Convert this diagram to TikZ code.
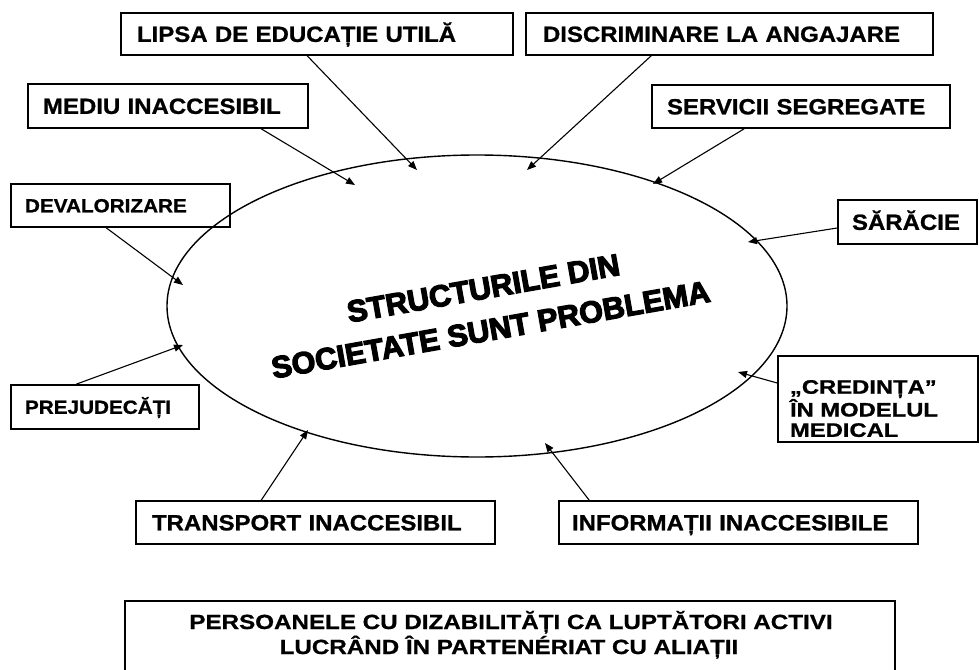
\documentclass[tikz,border=0pt]{standalone}
\usepackage{fontspec}
\setmainfont{Liberation Sans}
\newfontfamily\boxfont{Liberation Sans}[FakeStretch=1.09, BoldFeatures={FakeBold=1}]
\newfontfamily\credfont{Liberation Sans}[FakeStretch=1.22, BoldFeatures={FakeBold=1}]
\newfontfamily\botfont{Liberation Sans}[FakeStretch=1.18, BoldFeatures={FakeBold=0.8}]
\newfontfamily\heavyfont{Liberation Sans}[BoldFeatures={FakeBold=4}]
\usetikzlibrary{shapes.geometric,arrows.meta}
\begin{document}
\begin{tikzpicture}[x=1pt,y=-1pt,
  box/.style={draw, line width=1.6pt, rectangle, align=left, inner ysep=0pt,
    text height=15.7pt, text depth=0pt,
    font=\boxfont\bfseries\fontsize{22}{24}\selectfont},
  smallbox/.style={box, text height=13.6pt,
    font=\boxfont\bfseries\fontsize{19}{21}\selectfont},
  feed/.style={line width=1.1pt, -{Triangle[length=9pt,width=7pt]}},
  bottext/.style={anchor=base, inner sep=0pt,
    font=\botfont\bfseries\fontsize{20.5}{25}\selectfont},
]
\useasboundingbox[fill=white] (0,0) rectangle (979,669);

% central ellipse
\node[draw, ellipse, line width=1.4pt, inner sep=0pt,
      minimum width=620pt, minimum height=302pt] (oval) at (477,306) {};
\node[rotate=10, align=center, inner sep=0pt,
      font=\heavyfont\bfseries\fontsize{30.5}{42}\selectfont] (title) at (487,309)
      {STRUCTURILE DIN\\SOCIETATE SUNT PROBLEMA};

% boxes
\node[box, minimum height=42pt, inner xsep=16pt, text width=360pt] (lipsa) at (317,34) {LIPSA DE EDUCAȚIE UTILĂ};
\node[box, minimum height=42pt, inner xsep=17pt, text width=373pt] (discr) at (729.5,34) {DISCRIMINARE LA ANGAJARE};
\node[box, minimum height=44pt, inner xsep=15pt, text width=250pt] (mediu) at (168,106) {MEDIU INACCESIBIL};
\node[box, minimum height=43pt, inner xsep=15pt, text width=268pt] (serv) at (801,106.5) {SERVICII SEGREGATE};
\node[smallbox, minimum height=43pt, inner xsep=14pt, text width=191pt] (deval) at (120.5,205.5) {DEVALORIZARE};
\node[box, minimum height=44pt, inner xsep=14pt, text width=111pt] (sarac) at (907.5,222) {SĂRĂCIE};
\node[smallbox, minimum height=44pt, inner xsep=14pt, text width=160pt] (prej) at (105,407) {PREJUDECĂȚI};
\node[box, minimum height=86pt, inner xsep=12pt, text width=176pt,
      text height=30pt, text depth=40.6pt,
      font=\credfont\bfseries\fontsize{19.5}{20.3}\selectfont] (cred) at (878,399)
      {„CREDINȚA”\\ÎN MODELUL\\MEDICAL};
\node[box, minimum height=43pt, inner xsep=16pt, text width=327pt] (transp) at (315.5,522.5) {TRANSPORT INACCESIBIL};
\node[box, minimum height=43pt, inner xsep=13pt, text width=333pt] (info) at (738.5,522.5) {INFORMAȚII INACCESIBILE};

% bottom box
\node[draw, line width=1.6pt, anchor=north, minimum width=770pt, minimum height=100pt] (bottom) at (510,600) {};
\node[bottext] (bot1) at (511,629) {PERSOANELE CU DIZABILITĂȚI CA LUPTĂTORI ACTIVI};
\node[bottext] (bot2) at (509,654) {LUCRÂND ÎN PARTENÉRIAT CU ALIAȚII};

% arrow tips on the ellipse
\coordinate (tLipsa) at (417,170);
\coordinate (tMediu) at (355,185);
\coordinate (tDiscr) at (527,170);
\coordinate (tServ) at (653,184);
\coordinate (tSarac) at (748,242);
\coordinate (tDeval) at (183,285);
\coordinate (tPrej) at (183,345);
\coordinate (tTransp) at (308,430);
\coordinate (tInfo) at (545,443);
\coordinate (tCred) at (738,372);

\draw[feed] ([xshift=187pt]lipsa.south west) -- (tLipsa);
\draw[feed] ([xshift=234pt]mediu.south west) -- (tMediu);
\draw[feed] ([xshift=126pt]discr.south west) -- (tDiscr);
\draw[feed] ([xshift=93pt]serv.south west) -- (tServ);
\draw[feed] ([yshift=-6pt]sarac.west) -- (tSarac);
\draw[feed] ([xshift=96pt]deval.south west) -- (tDeval);
\draw[feed] ([xshift=66pt]prej.north west) -- (tPrej);
\draw[feed] ([xshift=126pt]transp.north west) -- (tTransp);
\draw[feed] ([xshift=31pt]info.north west) -- (tInfo);
\draw[feed] ([yshift=16pt]cred.west) -- (tCred);
\end{tikzpicture}
\end{document}
